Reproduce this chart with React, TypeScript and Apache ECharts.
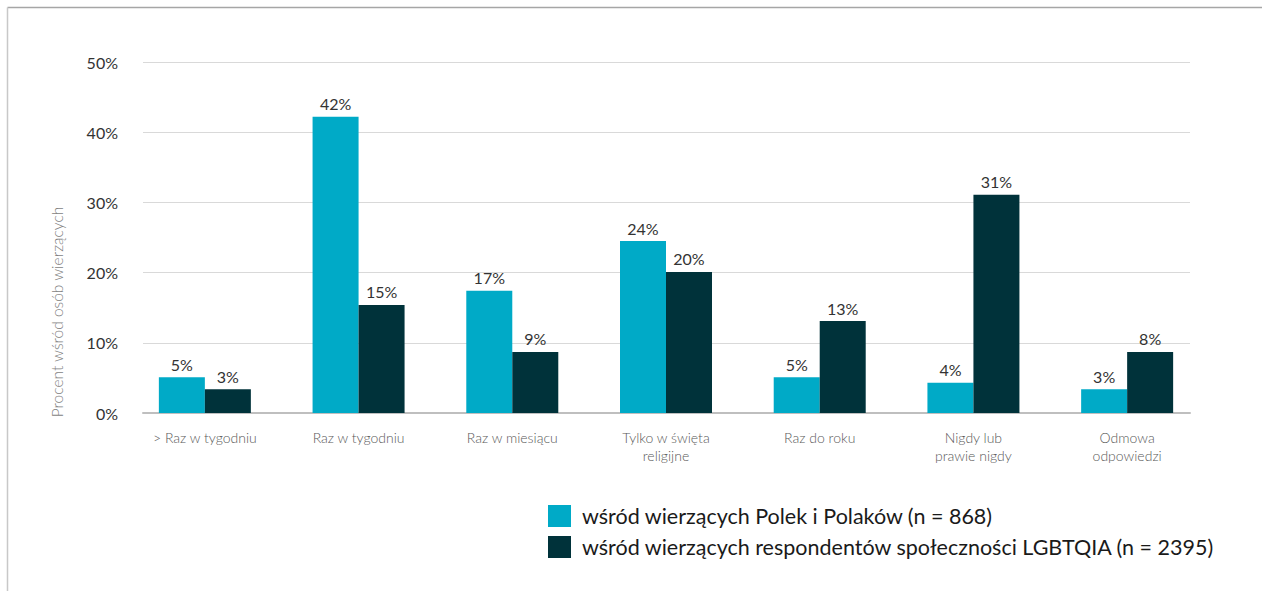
import React, { useEffect, useRef } from "react";
import * as echarts from "echarts";

const categories = [
  "> Raz w tygodniu",
  "Raz w tygodniu",
  "Raz w miesiącu",
  "Tylko w święta\nreligijne",
  "Raz do roku",
  "Nigdy lub\nprawie nigdy",
  "Odmowa\nodpowiedzi",
];
const seriesNames = [
  "wśród wierzących Polek i Polaków (n = 868)",
  "wśród wierzących respondentów społeczności LGBTQIA (n = 2395)",
];
const generalValues = [5.1, 42.2, 17.4, 24.5, 5.1, 4.3, 3.4];
const generalLabels = ["5%", "42%", "17%", "24%", "5%", "4%", "3%"];
const lgbtValues = [3.4, 15.4, 8.7, 20.1, 13.1, 31.1, 8.7];
const lgbtLabels = ["3%", "15%", "9%", "20%", "13%", "31%", "8%"];
const yTicks = [0, 10, 20, 30, 40, 50];
const yAxisTitle = "Procent wśród osób wierzących";

const FONT = "Lato, 'Noto Sans', sans-serif";

export default function App() {
  const ref = useRef<HTMLDivElement>(null);
  useEffect(() => {
    document.body.style.margin = "0";
    const chart = echarts.init(ref.current!, null, { renderer: "svg" });
    const labelFor = (labels: string[]) => ({
      show: true,
      position: "top" as const,
      distance: 5,
      fontSize: 16,
      color: "#333333",
      fontFamily: FONT,
      formatter: (p: any) => labels[p.dataIndex],
    });
    const yMin = yTicks[0];
    const yMax = yTicks[yTicks.length - 1];
    chart.setOption({
      animation: false,
      textStyle: { fontFamily: FONT },
      grid: [
        { left: 143, right: 72, top: 62, bottom: 178, containLabel: false },
        { left: 128, right: 58, top: 62, bottom: 178, containLabel: false },
      ],
      legend: {
        orient: "vertical",
        left: 548,
        top: 505,
        padding: 0,
        itemWidth: 23,
        itemHeight: 22,
        itemGap: 9,
        icon: "rect",
        textStyle: {
          fontSize: 21.5,
          lineHeight: 22,
          color: "#1a1a1a",
          fontFamily: FONT,
          padding: [0, 0, 0, 6],
        },
        data: seriesNames,
      },
      xAxis: [
        {
          gridIndex: 0,
          type: "category",
          data: categories,
          axisTick: { show: false },
          axisLabel: { show: false },
          axisLine: { lineStyle: { color: "#bfbfbf", width: 2 } },
        },
        {
          gridIndex: 1,
          type: "category",
          data: categories,
          axisTick: { show: false },
          axisLine: { show: false },
          axisLabel: {
            fontSize: 14,
            fontWeight: 300,
            color: "#595959",
            fontFamily: FONT,
            margin: 15,
            lineHeight: 18,
            interval: 0,
          },
        },
      ],
      yAxis: [
        {
          gridIndex: 0,
          type: "value",
          min: yMin,
          max: yMax,
          interval: 10,
          axisLine: { show: false },
          axisTick: { show: false },
          splitLine: { lineStyle: { color: "#d9d9d9", width: 1 } },
          axisLabel: {
            fontSize: 16,
            color: "#333333",
            fontFamily: FONT,
            margin: 25,
            formatter: (v: number) => `${v}%`,
          },
        },
        {
          gridIndex: 1,
          type: "value",
          min: yMin,
          max: yMax,
          interval: 10,
          show: false,
        },
      ],
      graphic: [
        {
          type: "text",
          x: 57,
          y: 312,
          rotation: Math.PI / 2,
          style: {
            text: yAxisTitle,
            fontSize: 15.5,
            fontWeight: 300,
            fill: "#7f7f7f",
            fontFamily: FONT,
            align: "center",
            verticalAlign: "middle",
          },
        },
        {
          type: "line",
          shape: { x1: 7.5, y1: 7.5, x2: 1262, y2: 7.5 },
          style: { stroke: "#a6a6a6", lineWidth: 1.5 },
        },
        {
          type: "line",
          shape: { x1: 7.5, y1: 7.5, x2: 7.5, y2: 591 },
          style: { stroke: "#c8c8c8", lineWidth: 1.5 },
        },
      ],
      series: [
        {
          name: seriesNames[0],
          type: "bar",
          xAxisIndex: 1,
          yAxisIndex: 1,
          data: generalValues,
          barWidth: 46,
          barGap: "0%",
          itemStyle: { color: "#00aac7" },
          label: labelFor(generalLabels),
        },
        {
          name: seriesNames[1],
          type: "bar",
          xAxisIndex: 1,
          yAxisIndex: 1,
          data: lgbtValues,
          barWidth: 46,
          barGap: "0%",
          itemStyle: { color: "#00323a" },
          label: labelFor(lgbtLabels),
        },
      ],
    });
    return () => chart.dispose();
  }, []);
  return <div ref={ref} style={{ width: 1262, height: 591 }} />;
}
